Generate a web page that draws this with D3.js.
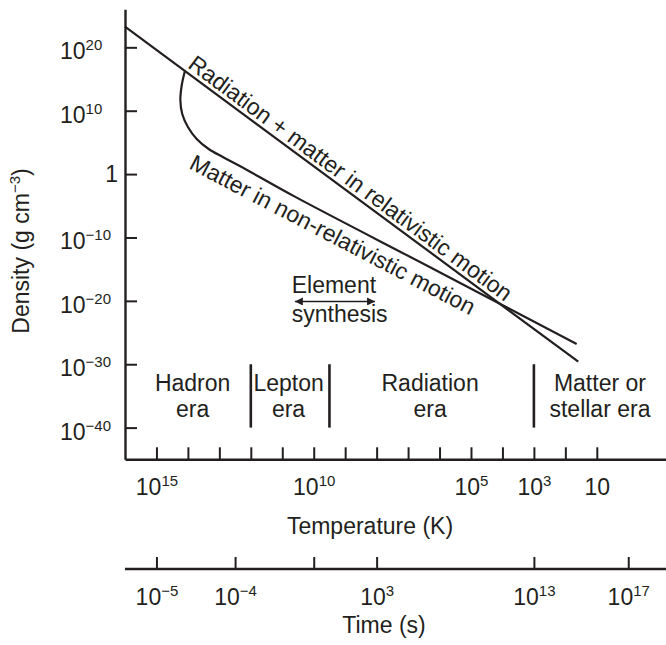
<!DOCTYPE html>
<html>
<head>
<meta charset="utf-8">
<script src="https://cdn.jsdelivr.net/npm/d3@7"></script>
<style>
  body { margin: 0; background: #fff; }
  svg { display: block; font-family: "Liberation Sans", Arial, sans-serif; }
</style>
</head>
<body>
<div id="chart"></div>
<script>
// All values are log10: temperature in K, density in g cm^-3, time in s.

// Radiation + matter in relativistic motion (straight line)
const radiationLine = [[16.0, 23.25], [1.59, -29.6]];
// Matter in non-relativistic motion (hook from the radiation line, then straight)
const matterLine = [
	[14.10, 16.2], [14.195, 14.05], [14.24, 11.69], [14.18, 9.48], [14.0, 7.43],
	[13.72, 5.54], [13.34, 3.96], [12.89, 2.70], [12.35, 1.28], [10.6, -3.56],
	[6.3, -14.7], [1.64, -26.8]
];

const densityTicks = [20, 10, 0, -10, -20, -30, -40];
const tempTicks = [15, 14, 13, 12, 11, 10, 9, 8, 7, 6, 5, 4, 3, 2, 1];
const tempLabelled = [15, 10, 5, 3, 1];

// time ticks and the temperature each one sits under
const timeTicks = [-5, -4, 0, 3, 13, 17];
const timeAtTemp = [15, 12.5, 10, 8, 3, 0];
const timeLabelled = [-5, -4, 3, 13, 17];

// eras
const eraBounds = [12, 9.5, 3];
const eraNames = [["Hadron", "era"], ["Lepton", "era"], ["Radiation", "era"], ["Matter or", "stellar era"]];
const eraCenters = [13.85, 10.8, 6.3, 0.9];

// element synthesis arrow
const synthesisRange = [10.6, 8.05];
const synthesisDensity = -20.1;

const ink = "#231f20";
const width = 666, height = 645;

const svg = d3.select("#chart").append("svg")
	.attr("width", width)
	.attr("height", height);

svg.append("rect").attr("width", width).attr("height", height).attr("fill", "#fff");

const x = d3.scaleLinear().domain([16, -1.2]).range([125, 666]);
const y = d3.scaleLinear().domain([-45, 26]).range([459.3, 9.3]);
const t = d3.scaleLinear().domain(timeTicks).range(timeAtTemp.map(x));

// writes 10^e into a text element
function power(sel, e) {
	sel.text(null);
	if (e === 0) { sel.text("1"); return; }
	if (e === 1) { sel.text("10"); return; }
	sel.append("tspan").text("10");
	sel.append("tspan")
		.attr("font-size", 15)
		.attr("dy", -9)
		.text(String(e).replace("-", "\u2212"));
}

function styleAxis(g) {
	g.attr("font-family", null).attr("font-size", 23);
	g.select(".domain").attr("stroke", ink).attr("stroke-width", 2.4);
	g.selectAll(".tick line").attr("stroke", ink).attr("stroke-width", 2);
	g.selectAll(".tick text").attr("fill", ink);
}

// y axis
const yAxis = svg.append("g")
	.attr("transform", "translate(" + x(16) + ",0)")
	.call(d3.axisLeft(y).tickValues(densityTicks).tickSizeInner(-12).tickSizeOuter(0))
	.call(styleAxis);

yAxis.selectAll(".tick text").each(function(d) {
	const s = d3.select(this);
	power(s, d);
	if (d === 0) {
		s.attr("text-anchor", "end").attr("x", -7).attr("dy", "0.32em");
	} else {
		s.attr("text-anchor", "start").attr("x", -65).attr("dy", "0.5em");
	}
});

// temperature axis
const xAxis = svg.append("g")
	.attr("transform", "translate(0," + y(-45) + ")")
	.call(d3.axisBottom(x).tickValues(tempTicks).tickSizeInner(-12).tickSizeOuter(0).tickPadding(19))
	.call(styleAxis);

xAxis.selectAll(".tick text").each(function(d) {
	const s = d3.select(this);
	if (tempLabelled.includes(d)) power(s, d);
	else s.text(null);
});

// time axis
const timeY = 569;
svg.append("line")
	.attr("x1", x(16)).attr("x2", x(-1.2))
	.attr("y1", timeY).attr("y2", timeY)
	.attr("stroke", ink).attr("stroke-width", 2.4);

const tAxis = svg.append("g")
	.attr("transform", "translate(0," + timeY + ")")
	.call(d3.axisBottom(t).tickValues(timeTicks).tickSizeInner(-12).tickSizeOuter(0).tickPadding(20))
	.call(styleAxis);
tAxis.select(".domain").remove();
tAxis.selectAll(".tick text").each(function(d) {
	const s = d3.select(this);
	if (timeLabelled.includes(d)) power(s, d);
	else s.text(null);
});

// axis titles
svg.append("text")
	.attr("transform", "translate(28.5,251) rotate(-90)")
	.attr("text-anchor", "middle")
	.attr("font-size", 23)
	.attr("fill", ink)
	.call(s => {
		s.append("tspan").text("Density (g cm");
		s.append("tspan").attr("font-size", 15).attr("dy", -9).text("\u22123");
		s.append("tspan").attr("dy", 9).text(")");
	});

svg.append("text")
	.attr("x", 370).attr("y", 534)
	.attr("text-anchor", "middle")
	.attr("font-size", 23)
	.attr("fill", ink)
	.text("Temperature (K)");

svg.append("text")
	.attr("x", 384).attr("y", 633)
	.attr("text-anchor", "middle")
	.attr("font-size", 23)
	.attr("fill", ink)
	.text("Time (s)");

// curves
const line = d3.line()
	.x(d => x(d[0]))
	.y(d => y(d[1]))
	.curve(d3.curveCatmullRom.alpha(0.5));

svg.append("path")
	.attr("d", line(radiationLine))
	.attr("fill", "none").attr("stroke", ink).attr("stroke-width", 2.2);

svg.append("path")
	.attr("d", line(matterLine))
	.attr("fill", "none").attr("stroke", ink).attr("stroke-width", 2.2);

// labels along the curves
function angleOf(a, b) {
	return Math.atan2(y(b[1]) - y(a[1]), x(b[0]) - x(a[0])) * 180 / Math.PI;
}

function lineLabel(txt, at, angle) {
	svg.append("text")
		.attr("transform", "translate(" + x(at[0]) + "," + y(at[1]) + ") rotate(" + angle + ")")
		.attr("font-size", 23)
		.attr("fill", ink)
		.text(txt);
}

lineLabel("Radiation + matter in relativistic motion", [14.04, 16.9],
	angleOf(radiationLine[0], radiationLine[1]));
lineLabel("Matter in non-relativistic motion", [14.0, 0.96],
	angleOf(matterLine[9], matterLine[11]));

// era dividers and names
svg.selectAll(".divider")
	.data(eraBounds)
	.join("line")
	.attr("class", "divider")
	.attr("x1", d => x(d)).attr("x2", d => x(d))
	.attr("y1", y(-30)).attr("y2", y(-40))
	.attr("stroke", ink).attr("stroke-width", 2.6);

eraNames.forEach((lines, i) => {
	const txt = svg.append("text")
		.attr("text-anchor", "middle")
		.attr("font-size", 23)
		.attr("fill", ink);
	txt.append("tspan").attr("x", x(eraCenters[i])).attr("y", y(-34.2)).text(lines[0]);
	txt.append("tspan").attr("x", x(eraCenters[i])).attr("y", y(-38.3)).text(lines[1]);
});

// element synthesis
svg.append("defs").append("marker")
	.attr("id", "head")
	.attr("viewBox", "0 -5 10 10")
	.attr("refX", 10)
	.attr("markerUnits", "userSpaceOnUse")
	.attr("markerWidth", 11)
	.attr("markerHeight", 8)
	.attr("orient", "auto-start-reverse")
	.append("path")
	.attr("d", "M0,-5L10,0L0,5Z")
	.attr("fill", ink);

svg.append("line")
	.attr("x1", x(synthesisRange[0])).attr("x2", x(synthesisRange[1]))
	.attr("y1", y(synthesisDensity)).attr("y2", y(synthesisDensity))
	.attr("stroke", ink).attr("stroke-width", 1.5)
	.attr("marker-start", "url(#head)")
	.attr("marker-end", "url(#head)");

svg.append("text")
	.attr("font-size", 23)
	.attr("fill", ink)
	.call(s => {
		s.append("tspan").attr("x", x(10.7)).attr("y", y(-18.7)).text("Element");
		s.append("tspan").attr("x", x(10.7)).attr("y", y(-23.3)).text("synthesis");
	});
</script>
</body>
</html>
